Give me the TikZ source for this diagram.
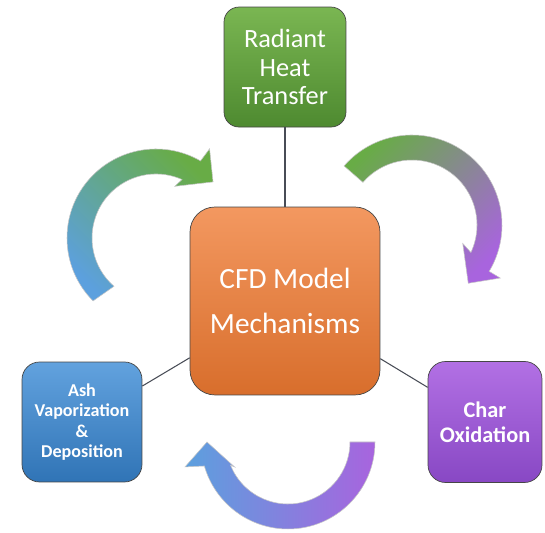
\documentclass[tikz,border=0pt]{standalone}
\usepackage{fontspec}
\setmainfont{Carlito}
\usetikzlibrary{positioning}
\definecolor{heattop}{RGB}{122,182,82}
\definecolor{heatbot}{RGB}{78,138,48}
\definecolor{cfdtop}{RGB}{243,152,96}
\definecolor{cfdbot}{RGB}{216,110,44}
\definecolor{ashtop}{RGB}{98,162,222}
\definecolor{ashbot}{RGB}{48,116,182}
\definecolor{chartop}{RGB}{178,112,228}
\definecolor{charbot}{RGB}{136,72,196}
\definecolor{arrblue}{RGB}{92,160,222}
\definecolor{arrgreen}{RGB}{104,172,70}
\definecolor{arrpurple}{RGB}{168,100,222}
\definecolor{linkgray}{RGB}{72,76,86}

\begin{document}
\begin{tikzpicture}[x=0.02cm, y=0.02cm,
    box/.style={draw=gray!55!black, line width=0.4pt, text=white, align=center, inner sep=1pt},
    link/.style={draw=linkgray, line width=0.6pt},
    cyclearrow/.style={draw=gray!45, line width=0.3pt}]
    \useasboundingbox (0,0) rectangle (545,533);

    \node[box, top color=cfdtop, bottom color=cfdbot, minimum width=3.8cm, minimum height=3.76cm,
        rounded corners=0.5cm, font=\fontsize{16.7}{25.5}\selectfont] (cfd) at (285,232) {CFD Model\\Mechanisms};
    \node[box, top color=heattop, bottom color=heatbot, minimum width=2.44cm, minimum height=2.4cm,
        rounded corners=0.3cm, font=\fontsize{15}{16}\selectfont, above of=cfd, node distance=4.68cm] (heat) {Radiant\\Heat\\Transfer};
    \node[box, top color=ashtop, bottom color=ashbot, minimum width=2.4cm, minimum height=2.4cm,
        rounded corners=0.35cm, font=\fontsize{10.3}{11.6}\selectfont\bfseries] (ash) at (82,111) {Ash\\Vaporization\\\&\\Deposition};
    \node[box, top color=chartop, bottom color=charbot, minimum width=2.28cm, minimum height=2.42cm,
        rounded corners=0.35cm, font=\fontsize{12.7}{14}\selectfont\bfseries] (char) at (485,111) {Char\\Oxidation};

    \draw[link] (cfd) -- (heat);
    \draw[link] (cfd) -- (ash);
    \draw[link] (cfd) -- (char);

    \begin{scope}[shift={(156,295)}]
        \shadedraw[cyclearrow, top color=arrgreen, bottom color=arrblue, shading angle=-45]
            (225:89) arc[start angle=225, end angle=60, radius=89] -- (59:104) -- (44.5:80) -- (70:55)
            -- (66:64) arc[start angle=66, end angle=229, radius=64] -- cycle;
    \end{scope}

    \begin{scope}[shift={(412,308)}]
        \shadedraw[cyclearrow, top color=arrgreen, bottom color=arrpurple, shading angle=45]
            (139:90) arc[start angle=139, end angle=-31, radius=90] -- (-31:103) -- (-46:81) -- (-20:54)
            -- (-25:65) arc[start angle=-25, end angle=139, radius=65] -- cycle;
    \end{scope}

    \begin{scope}[shift={(288,91)}]
        \shadedraw[cyclearrow, left color=arrblue, right color=arrpurple]
            (0:87) arc[start angle=0, end angle=-164, radius=87] -- (-166.4:106) -- (180:81) -- (-155:59)
            -- (-158:62) arc[start angle=-158, end angle=0, radius=62] -- cycle;
    \end{scope}
\end{tikzpicture}
\end{document}
